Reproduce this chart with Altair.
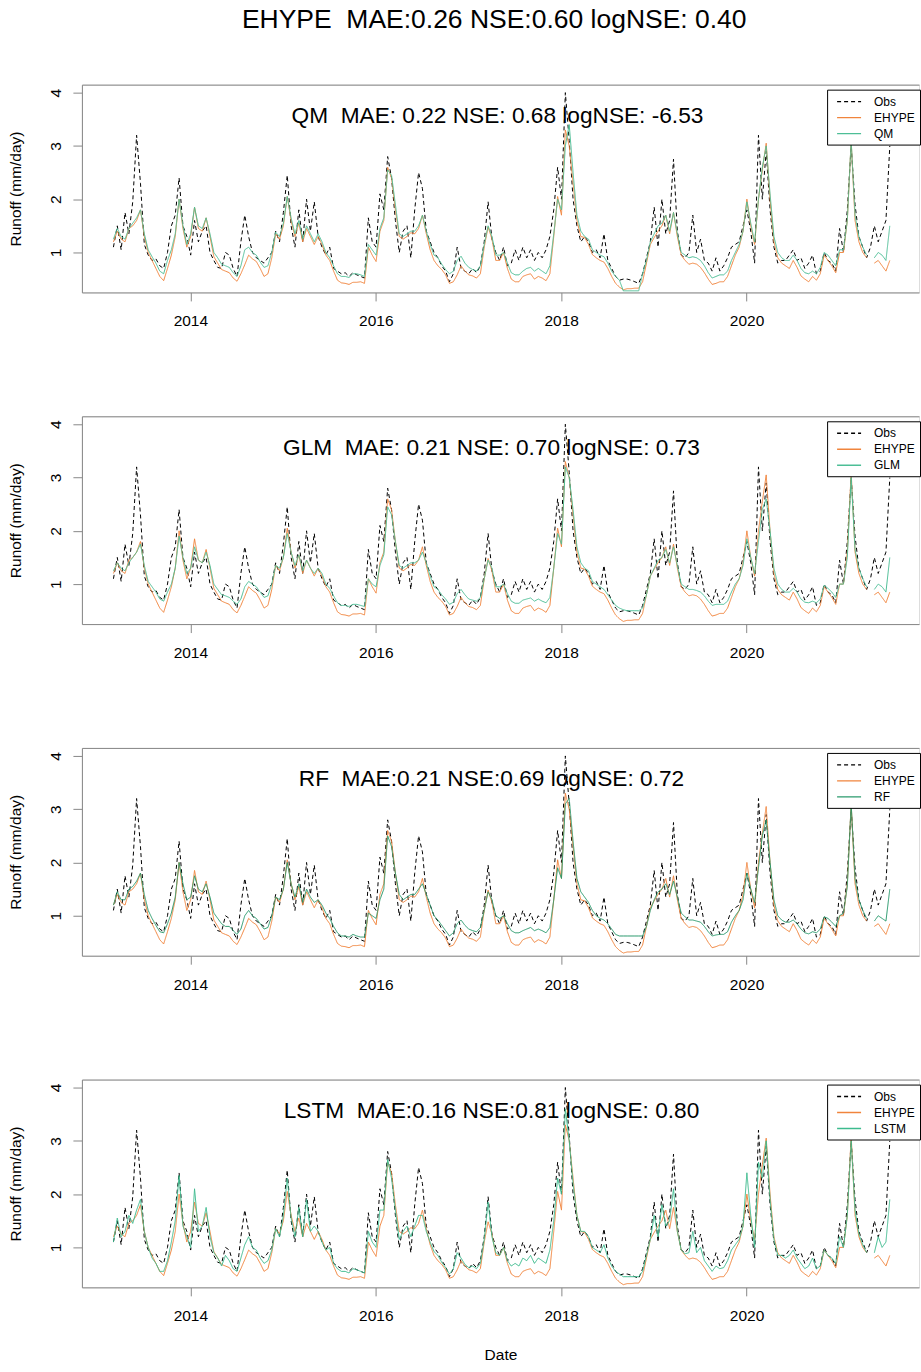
import altair as alt
import pandas as pd

FONT = "Liberation Sans"
START = 2013.17
STEP = 1 / 24

obs = [
    1.1, 1.5, 1.05, 1.75, 1.35, 1.95, 3.2, 2.3, 1.15, 0.95,
    0.85, 0.88, 0.75, 0.7, 1.0, 1.5, 1.7, 2.4, 1.5, 1.3,
    0.95, 1.6, 1.2, 1.4, 1.5, 1.0, 0.85, 0.72, 0.7, 1.0,
    0.95, 0.7, 0.55, 1.2, 1.7, 1.3, 1.0, 0.9, 0.85, 0.8,
    0.9, 1.0, 1.4, 1.2, 1.75, 2.45, 1.5, 1.1, 1.8, 1.2,
    2.0, 1.4, 1.95, 1.3, 1.1, 0.95, 1.1, 0.7, 0.65, 0.6,
    0.62, 0.55, 0.62, 0.58, 0.55, 0.52, 1.65, 1.2, 1.1, 2.1,
    1.8, 2.8, 2.4, 1.6, 1.0, 1.4, 1.5, 0.9, 1.8, 2.5,
    2.2, 1.4, 1.2, 1.0, 0.9, 0.75, 0.65, 0.45, 0.6, 1.1,
    0.7, 0.65, 0.6, 0.7, 0.62, 0.75, 1.2, 1.95, 1.25, 1.0,
    0.85, 1.1, 0.75, 0.8, 1.05, 0.85, 1.1, 0.9, 1.05, 0.85,
    1.0, 0.9, 1.05, 1.3, 1.8, 2.6, 2.0, 4.0, 3.1, 2.0,
    1.5, 1.2, 1.3, 1.2, 1.0, 1.05, 0.9, 1.35, 0.85, 0.7,
    0.55, 0.48, 0.5, 0.5, 0.48, 0.45, 0.42, 0.6, 0.9, 1.2,
    1.85, 1.1, 2.0, 1.35, 1.6, 2.75, 1.4, 0.95, 0.9, 1.0,
    1.7, 1.0, 1.25, 0.85, 0.8, 0.65, 0.9, 0.65, 0.75, 0.9,
    1.1, 1.15, 1.2, 1.5, 1.8, 1.4, 0.8, 3.2, 2.0, 2.9,
    1.8, 1.1, 0.8, 0.85, 0.85, 0.95, 1.05, 0.85, 0.9, 0.7,
    0.8, 0.95, 0.6, 0.65, 1.0, 0.85, 0.8, 0.65, 1.45, 1.0,
    1.8, 3.0, 1.9, 1.3, 1.1, 0.9, 1.1, 1.5, 1.2, 1.4,
    1.6, 3.0,
]

ehype = [
    1.2, 1.4, 1.25, 1.2, 1.45, 1.5, 1.6, 1.8, 1.3, 1.0,
    0.85, 0.7, 0.55, 0.47, 0.7, 0.95, 1.3, 2.0, 1.45, 1.1,
    1.3, 1.85, 1.45, 1.4, 1.65, 1.3, 0.92, 0.8, 0.68, 0.65,
    0.62, 0.52, 0.46, 0.6, 0.77, 0.95, 0.88, 0.83, 0.7, 0.55,
    0.6, 0.9, 1.35, 1.25, 1.5, 2.05, 1.6, 1.3, 1.55, 1.2,
    1.45, 1.3, 1.15, 1.3, 1.15, 0.95, 0.85, 0.65, 0.48, 0.43,
    0.42, 0.4, 0.44, 0.44, 0.45, 0.42, 1.1, 0.95, 0.83, 1.4,
    1.6, 2.6, 2.4, 1.8, 1.3, 1.25, 1.3, 1.37, 1.35, 1.45,
    1.7, 1.35, 1.05, 0.85, 0.75, 0.68, 0.58, 0.42, 0.45, 0.58,
    0.75, 0.65, 0.58, 0.56, 0.52, 0.6, 1.1, 1.48, 1.25, 0.85,
    0.85, 1.0, 0.7, 0.5, 0.45, 0.45, 0.55, 0.58, 0.6, 0.5,
    0.55, 0.52, 0.47, 0.6, 1.3, 2.05, 1.7, 3.3, 3.0, 2.3,
    1.6, 1.3, 1.28, 1.15, 0.96, 0.9, 0.85, 0.82, 0.7, 0.55,
    0.42, 0.35, 0.3, 0.32, 0.32, 0.33, 0.33, 0.45, 0.8, 1.15,
    1.28, 1.4, 1.5, 1.7, 1.35, 1.75, 1.3, 0.95, 0.85, 0.78,
    0.8, 0.78, 0.72, 0.62, 0.5, 0.4, 0.42, 0.45, 0.45, 0.55,
    0.75, 0.95, 1.1, 1.4, 2.0, 1.5, 1.15, 2.0, 2.55, 3.05,
    2.0, 1.2, 0.9, 0.8, 0.75, 0.7, 0.85, 0.72, 0.56, 0.5,
    0.45, 0.55, 0.48, 0.6, 0.95, 0.85, 0.75, 0.62, 1.0, 1.0,
    1.6, 3.1, 1.6, 1.2, 1.0, 0.9, None, 0.8, 0.85, 0.75,
    0.65, 0.85,
]

qm = [
    1.25, 1.45, 1.3, 1.25, 1.45, 1.55, 1.65, 1.8, 1.35, 1.05,
    0.92, 0.8, 0.65, 0.6, 0.85, 1.05, 1.35, 2.0, 1.5, 1.15,
    1.35, 1.85, 1.5, 1.45, 1.65, 1.35, 1.0, 0.9, 0.78, 0.75,
    0.72, 0.62, 0.55, 0.75, 1.05, 1.1, 1.0, 0.95, 0.82, 0.72,
    0.75, 1.0, 1.38, 1.3, 1.55, 2.05, 1.65, 1.35, 1.6, 1.25,
    1.5, 1.35, 1.2, 1.35, 1.2, 1.0, 0.9, 0.75, 0.6, 0.55,
    0.55, 0.53, 0.6, 0.6, 0.58, 0.55, 1.15, 1.05, 0.95, 1.45,
    1.65, 2.55, 2.45, 1.9, 1.35, 1.3, 1.35, 1.4, 1.4, 1.5,
    1.7, 1.4, 1.15, 0.95, 0.9, 0.78, 0.68, 0.6, 0.65, 0.85,
    0.93, 0.8, 0.72, 0.68, 0.65, 0.75, 1.15, 1.5, 1.3, 0.95,
    0.95, 1.0, 0.8, 0.62, 0.58, 0.58, 0.65, 0.7, 0.72, 0.65,
    0.7, 0.65, 0.6, 0.75, 1.35, 2.0, 1.8, 3.0, 3.4, 2.5,
    1.7, 1.4, 1.3, 1.25, 1.05, 1.0, 0.95, 0.92, 0.8, 0.65,
    0.55, 0.48, 0.28, 0.28, 0.28, 0.28, 0.28, 0.6, 0.85, 1.2,
    1.35, 1.5, 1.55, 1.7, 1.4, 1.75, 1.35, 1.0, 0.95, 0.9,
    0.92, 0.9, 0.85, 0.75, 0.62, 0.52, 0.55, 0.58, 0.58, 0.65,
    0.85, 1.0, 1.15, 1.4, 1.95, 1.55, 1.2, 2.0, 2.6, 3.0,
    2.1, 1.3, 1.0, 0.9, 0.85, 0.85, 0.95, 0.85, 0.7, 0.62,
    0.6, 0.65, 0.6, 0.72, 1.0, 0.95, 0.85, 0.75, 1.05, 1.05,
    1.6, 3.1, 1.7, 1.3, 1.1, 0.95, None, 0.9, 1.0, 0.95,
    0.85, 1.5,
]

glm = [
    1.25, 1.4, 1.3, 1.25, 1.4, 1.5, 1.6, 1.75, 1.35, 1.05,
    0.95, 0.85, 0.72, 0.68, 0.85, 1.0, 1.3, 1.9, 1.5, 1.2,
    1.3, 1.7, 1.45, 1.4, 1.6, 1.35, 1.0, 0.9, 0.8, 0.78,
    0.75, 0.68, 0.62, 0.72, 0.95, 1.05, 1.0, 0.95, 0.85, 0.75,
    0.78, 1.0, 1.35, 1.3, 1.5, 1.95, 1.6, 1.35, 1.55, 1.25,
    1.45, 1.3, 1.2, 1.3, 1.2, 1.0, 0.92, 0.78, 0.65, 0.6,
    0.6, 0.58, 0.62, 0.62, 0.6, 0.58, 1.1, 1.0, 0.95, 1.35,
    1.55, 2.45, 2.3, 1.8, 1.35, 1.3, 1.35, 1.4, 1.4, 1.45,
    1.6, 1.4, 1.15, 0.95, 0.9, 0.8, 0.72, 0.62, 0.66, 0.82,
    0.9, 0.8, 0.72, 0.7, 0.68, 0.75, 1.1, 1.45, 1.3, 0.95,
    0.95, 1.0, 0.82, 0.68, 0.64, 0.64, 0.7, 0.72, 0.74, 0.68,
    0.72, 0.68, 0.65, 0.75, 1.3, 1.95, 1.75, 3.2, 3.0, 2.4,
    1.7, 1.4, 1.3, 1.25, 1.05, 1.0, 0.95, 0.9, 0.8, 0.7,
    0.6, 0.55, 0.52, 0.5, 0.5, 0.5, 0.5, 0.55, 0.8, 1.15,
    1.3, 1.45, 1.5, 1.65, 1.4, 1.7, 1.35, 1.0, 0.95, 0.9,
    0.9, 0.88, 0.85, 0.78, 0.68, 0.6, 0.62, 0.62, 0.62, 0.68,
    0.85, 1.0, 1.1, 1.35, 1.85, 1.5, 1.2, 1.8, 2.4, 2.6,
    2.0, 1.3, 1.0, 0.9, 0.85, 0.85, 0.92, 0.85, 0.72, 0.66,
    0.65, 0.68, 0.65, 0.72, 0.98, 0.92, 0.85, 0.75, 1.0, 1.0,
    1.5, 3.0, 1.65, 1.3, 1.1, 0.95, None, 0.9, 1.0, 0.95,
    0.85, 1.5,
]

rf = [
    1.2, 1.45, 1.3, 1.3, 1.5, 1.55, 1.65, 1.8, 1.4, 1.1,
    0.95, 0.82, 0.7, 0.68, 0.85, 1.05, 1.35, 2.0, 1.6, 1.3,
    1.35, 1.75, 1.5, 1.45, 1.6, 1.35, 1.05, 0.95, 0.85, 0.8,
    0.8, 0.72, 0.65, 0.75, 1.0, 1.1, 1.0, 0.95, 0.85, 0.75,
    0.78, 1.0, 1.35, 1.3, 1.5, 2.0, 1.6, 1.35, 1.6, 1.25,
    1.5, 1.35, 1.25, 1.3, 1.2, 1.05, 0.95, 0.8, 0.68, 0.62,
    0.62, 0.6, 0.65, 0.62, 0.6, 0.6, 1.05, 1.0, 0.95, 1.3,
    1.5, 2.5, 2.3, 1.8, 1.4, 1.3, 1.35, 1.4, 1.4, 1.5,
    1.6, 1.4, 1.2, 1.0, 0.92, 0.82, 0.72, 0.62, 0.68, 0.85,
    0.92, 0.82, 0.75, 0.72, 0.7, 0.78, 1.1, 1.45, 1.3, 1.0,
    0.95, 1.0, 0.85, 0.72, 0.68, 0.68, 0.72, 0.75, 0.78, 0.72,
    0.75, 0.72, 0.68, 0.78, 1.3, 1.9, 1.7, 3.1, 3.2, 2.4,
    1.7, 1.45, 1.35, 1.25, 1.1, 1.0, 0.95, 0.92, 0.85, 0.75,
    0.65, 0.62, 0.62, 0.62, 0.62, 0.62, 0.62, 0.62, 0.8, 1.1,
    1.3, 1.45, 1.5, 1.6, 1.4, 1.65, 1.35, 1.05, 0.98, 0.92,
    0.92, 0.9, 0.88, 0.8, 0.7, 0.62, 0.64, 0.65, 0.65, 0.7,
    0.88, 1.0, 1.1, 1.3, 1.8, 1.5, 1.25, 1.9, 2.5, 2.8,
    2.0, 1.3, 1.0, 0.92, 0.88, 0.88, 0.92, 0.85, 0.75, 0.68,
    0.66, 0.7, 0.68, 0.75, 0.98, 0.95, 0.88, 0.8, 1.0, 1.05,
    1.55, 3.1, 1.7, 1.3, 1.1, 0.95, None, 0.9, 1.0, 0.95,
    0.9, 1.5,
]

lstm = [
    1.1, 1.55, 1.2, 1.3, 1.6, 1.45, 1.7, 1.9, 1.3, 1.0,
    0.8, 0.7, 0.55, 0.55, 0.75, 1.1, 1.5, 2.35, 1.4, 1.2,
    1.0, 2.1, 1.3, 1.4, 1.75, 1.2, 0.9, 0.8, 0.65, 0.85,
    0.75, 0.6, 0.55, 0.8, 1.05, 1.2, 1.0, 0.95, 0.8, 0.7,
    0.75, 0.95, 1.35, 1.2, 1.6, 2.3, 1.55, 1.2, 1.75, 1.2,
    1.9, 1.3, 1.4, 1.3, 1.1, 0.95, 1.0, 0.7, 0.6, 0.55,
    0.55, 0.52, 0.6, 0.58, 0.55, 0.52, 1.3, 1.1, 1.0, 1.7,
    1.7, 2.65, 2.3, 1.7, 1.15, 1.3, 1.4, 1.2, 1.4, 1.6,
    1.6, 1.3, 1.1, 0.92, 0.85, 0.72, 0.62, 0.5, 0.6, 0.9,
    0.8, 0.68, 0.62, 0.65, 0.6, 0.7, 1.15, 1.85, 1.2, 0.9,
    0.85, 1.0, 0.75, 0.65, 0.7, 0.65, 0.8, 0.75, 0.85, 0.7,
    0.8, 0.75, 0.7, 0.95, 1.5, 2.3, 2.0, 3.6, 3.0, 2.2,
    1.6, 1.3, 1.3, 1.2, 1.0, 0.95, 0.9, 1.05, 0.8, 0.65,
    0.55, 0.5, 0.45, 0.45, 0.45, 0.45, 0.45, 0.55, 0.85, 1.15,
    1.6, 1.2, 1.8, 1.4, 1.5, 2.1, 1.3, 0.95, 0.88, 0.9,
    1.3, 0.9, 1.0, 0.75, 0.65, 0.55, 0.65, 0.6, 0.62, 0.75,
    0.95, 1.05, 1.15, 1.4, 2.4, 1.6, 1.0, 2.6, 2.3, 3.0,
    1.9, 1.15, 0.85, 0.85, 0.8, 0.85, 0.95, 0.8, 0.7, 0.6,
    0.65, 0.8, 0.6, 0.65, 0.95, 0.85, 0.8, 0.7, 1.2, 1.0,
    1.6, 3.0, 1.7, 1.25, 1.05, 0.9, None, 0.9, 1.2, 1.0,
    1.1, 1.9,
]

models = ["QM", "GLM", "RF", "LSTM"]
model_values = {"QM": qm, "GLM": glm, "RF": rf, "LSTM": lstm}
panel_titles = {
    "QM": "QM \u00a0MAE: 0.22 NSE: 0.68 logNSE: -6.53",
    "GLM": "GLM \u00a0MAE: 0.21 NSE: 0.70 logNSE: 0.73",
    "RF": "RF \u00a0MAE:0.21 NSE:0.69 logNSE: 0.72",
    "LSTM": "LSTM \u00a0MAE:0.16 NSE:0.81 logNSE: 0.80",
}
title_dx = {"QM": -3, "GLM": -9, "RF": -9, "LSTM": -9}
model_colors = {"QM": "#4DBE96", "GLM": "#4DBE96", "RF": "#2A9A6C", "LSTM": "#3DBB8E"}
main_title = "EHYPE \u00a0MAE:0.26 NSE:0.60 logNSE: 0.40"
x_ticks = [2014, 2016, 2018, 2020]
y_ticks = [1, 2, 3, 4]

ORANGE = "#F0843C"
W = 838
H = 208

dates = [round(START + i * STEP, 4) for i in range(len(obs))]


def panel(model, last):
    rows = []
    for name, vals in [("Obs", obs), ("EHYPE", ehype), (model, model_values[model])]:
        for t, v in zip(dates, vals):
            rows.append({"t": t, "v": v, "series": name})
    df = pd.DataFrame(rows)
    order = ["Obs", "EHYPE", model]
    xscale = alt.Scale(domain=[2012.83, 2021.86], nice=False, zero=False)
    yscale = alt.Scale(domain=[0.25, 4.15], nice=False, zero=False)
    legend = alt.Legend(
        title=None, orient="none", legendX=746, legendY=5,
        symbolType="M-2,0L2,0", symbolSize=144, symbolStrokeWidth=1.4,
        symbolOffset=10, labelOffset=18, labelFontSize=12, labelFont=FONT,
        labelColor="black", padding=5, rowPadding=3, strokeColor="black",
        fillColor="white", cornerRadius=0,
    )
    xaxis = alt.Axis(
        values=x_ticks, format="d", grid=False, tickSize=8.5, labelPadding=13,
        labelFontSize=15.5, title="Date" if last else None, titleFontSize=15.5,
        titleFontWeight="normal", titlePadding=23,
    )
    yaxis = alt.Axis(
        values=y_ticks, format="d", grid=False, tickSize=9, labelPadding=9,
        labelAngle=-90, labelAlign="center", labelBaseline="bottom",
        labelFontSize=15.5, title="Runoff (mm/day)", titleFontSize=15.5,
        titleFontWeight="normal", titlePadding=25,
    )
    lines = alt.Chart(df).mark_line(strokeWidth=1, clip=True).encode(
        x=alt.X("t:Q", scale=xscale, axis=xaxis),
        y=alt.Y("v:Q", scale=yscale, axis=yaxis),
        color=alt.Color("series:N", scale=alt.Scale(domain=order, range=["black", ORANGE, model_colors[model]]), legend=legend),
        strokeDash=alt.StrokeDash("series:N", scale=alt.Scale(domain=order, range=[[4, 3], [1, 0], [1, 0]]), legend=legend),
        order=alt.Order("t:Q"),
    )
    top = alt.Chart(df.head(1)).mark_point(opacity=0).encode(
        x=alt.X("t:Q", scale=xscale, axis=alt.Axis(orient="top", labels=False, ticks=False, grid=False, domain=True, title=None)),
    )
    return alt.layer(lines, top).resolve_axis(x="independent").properties(
        width=W, height=H,
        title=alt.TitleParams(
            text=panel_titles[model], fontSize=22.7, font=FONT, fontWeight="normal",
            color="black", anchor="middle", offset=-61, baseline="alphabetic", dx=title_dx[model],
        ),
    )


chart = alt.vconcat(*[panel(m, i == 3) for i, m in enumerate(models)], spacing=85).resolve_scale(
    color="independent", strokeDash="independent"
).resolve_legend(
    color="independent", strokeDash="independent"
).properties(
    title=alt.TitleParams(text=main_title, fontSize=26.5, font=FONT, fontWeight="normal", color="black",
                          anchor="middle", offset=51, dx=29.5),
    padding={"left": 8, "top": 6, "right": 0, "bottom": 5},
).configure_view(stroke=None).configure_axis(
    domainColor="black", tickColor="black", labelColor="black", titleColor="black",
    labelFont=FONT, titleFont=FONT, domainWidth=1, tickWidth=1,
).configure(background="white")

chart.save("out.html", embed_options={"renderer": "svg", "actions": False})
